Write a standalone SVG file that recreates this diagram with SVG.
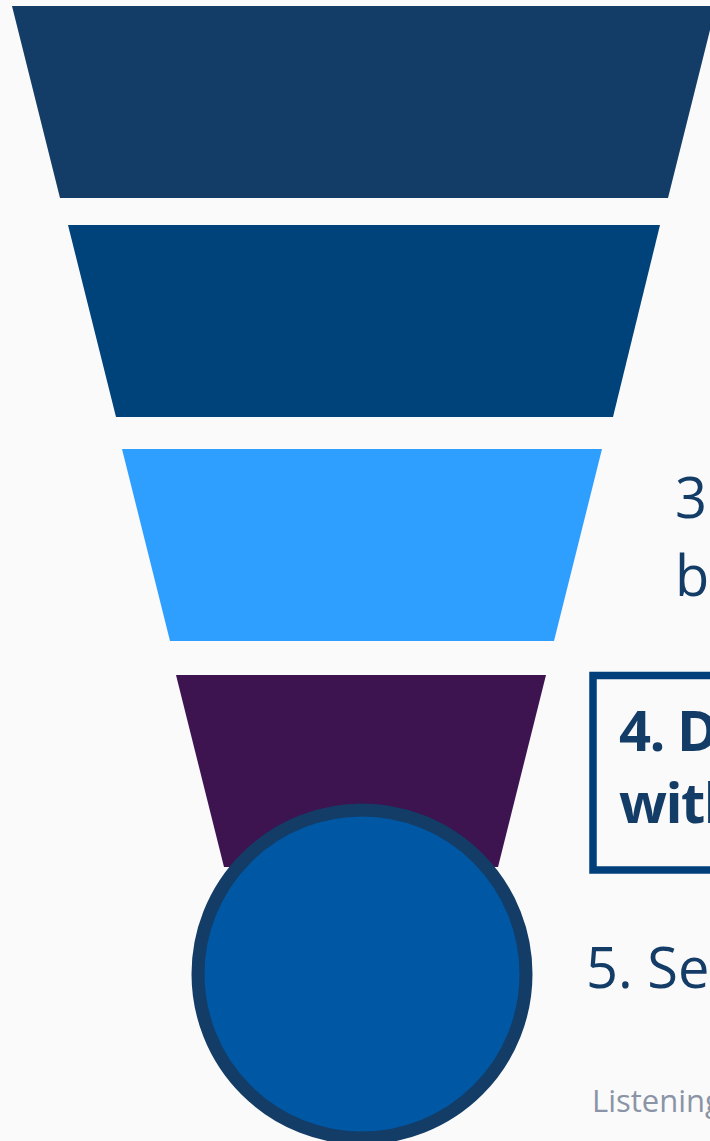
<svg xmlns="http://www.w3.org/2000/svg" width="710" height="1141" viewBox="0 0 710 1141">
  <style>
    .lbl { font-family: "Open Sans", "Noto Sans", "Liberation Sans", sans-serif; font-size: 56px; fill: #133C66; }
    .bold { font-weight: 700; letter-spacing: -1.5px; }
    .note { font-family: "Open Sans", "Noto Sans", "Liberation Sans", sans-serif; font-size: 31px; fill: #8A94A6; }
  </style>
  <rect width="710" height="1141" fill="#FAFAFA"/>
  <g id="stage1">
    <polygon points="12,6 716,6 668,198 60,198" fill="#133C66"/>
  </g>
  <g id="stage2">
    <polygon points="68,225 660,225 613,417 116,417" fill="#00437A"/>
  </g>
  <g id="stage3">
    <polygon points="122,449 602,449 554,641 170,641" fill="#2E9FFF"/>
    <text class="lbl" x="675" y="518">3</text>
    <text class="lbl" x="675" y="596">b</text>
  </g>
  <g id="stage4">
    <polygon points="176,675 546,675 498,867 224,867" fill="#3D1350"/>
    <rect x="593" y="675.5" width="400" height="194.5" fill="none" stroke="#003F7A" stroke-width="7.5"/>
    <text class="lbl bold" x="619" y="751">4. D</text>
    <text class="lbl bold" x="619" y="823">with</text>
  </g>
  <g id="stage5">
    <circle cx="362" cy="974" r="164" fill="#0057A3" stroke="#133C66" stroke-width="13"/>
    <text class="lbl" x="586" y="988">5. Se</text>
  </g>
  <g id="footnote">
    <text class="note" x="592" y="1112">Listening</text>
  </g>
  <g id="connectors"/>
</svg>
